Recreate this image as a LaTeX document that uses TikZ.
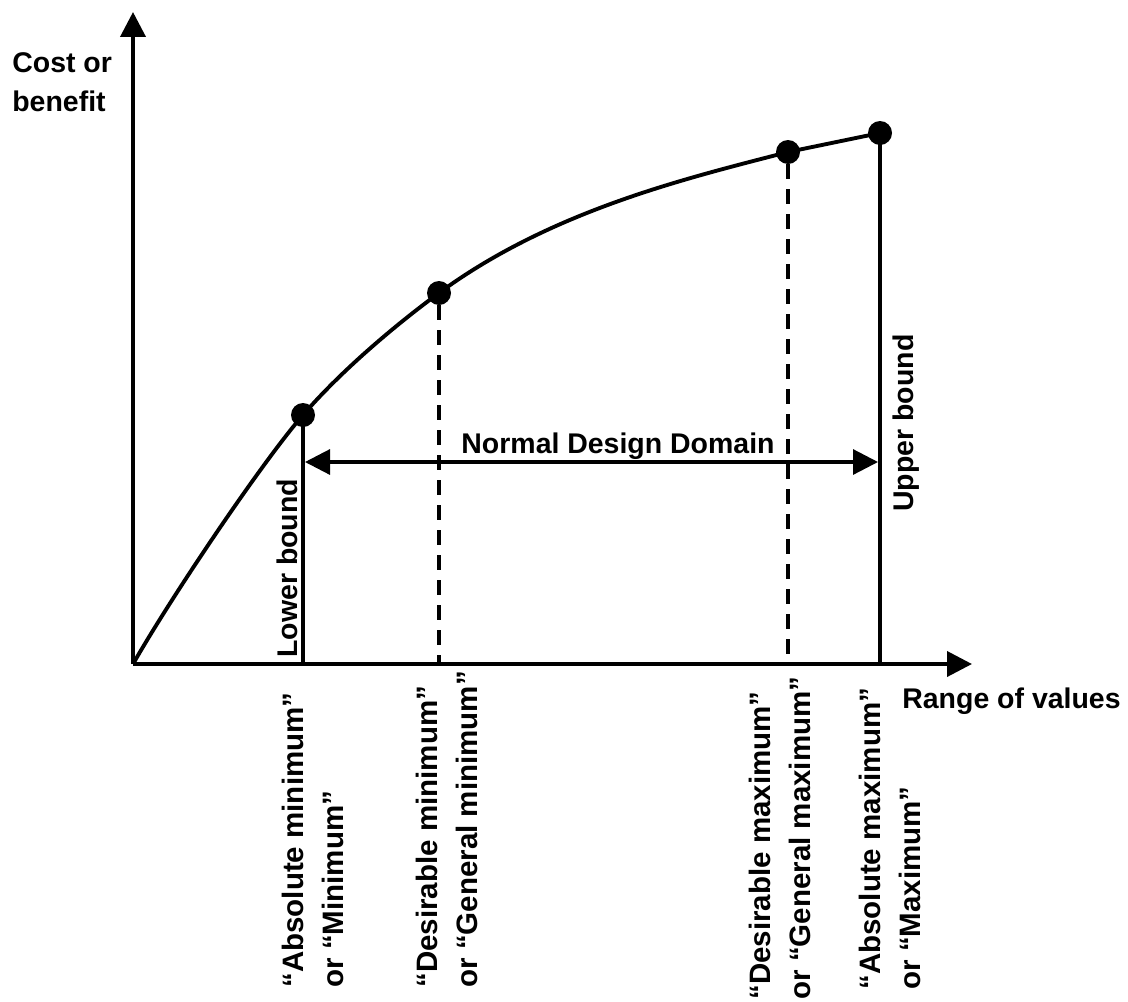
\documentclass[tikz,border=0pt]{standalone}
\usepackage{fontspec}
\setmainfont{Liberation Sans}
\usetikzlibrary{arrows.meta}

\begin{document}
\begin{tikzpicture}[
    x=0.02cm, y=-0.02cm,
    font=\bfseries\fontsize{16.2pt}{22.5pt}\selectfont,
    dot/.style={circle, fill=black, inner sep=0pt, minimum size=0.48cm},
    axisarrow/.style={-{Triangle[length=0.5cm, width=0.5cm]}, line width=2.2pt},
    benefitline/.style={line width=2.2pt},
    boundline/.style={line width=1.8pt},
    dashline/.style={line width=1.8pt, dash pattern=on 0.3cm off 0.2cm},
    spanarrow/.style={{Triangle[length=0.5cm, width=0.5cm]}-{Triangle[length=0.5cm, width=0.5cm]}, line width=1.8pt},
    vlabel/.style={rotate=90, align=left, anchor=north west, inner sep=0pt,
        font=\bfseries\fontsize{16.8pt}{22.5pt}\selectfont}
    ]
    \useasboundingbox (0,0) rectangle (1128,1001);

    %Axes
    \coordinate (O) at (133,664);
    \coordinate (ytip) at (133,12);
    \coordinate (xtip) at (972,664);
    \draw[axisarrow] (O) -- (ytip);
    \draw[axisarrow] (O) -- (xtip);

    %Points on the curve
    \node[dot] (absmin) at (303,415) {};
    \node[dot] (desmin) at (439,293) {};
    \node[dot] (desmax) at (788,152) {};
    \node[dot] (absmax) at (880,133) {};

    %Curve
    \draw[benefitline] (O) .. controls (173,594) and (263,461) .. (absmin.center)
        .. controls (340,372) and (394,326) .. (desmin.center)
        .. controls (552,210) and (688,178) .. (desmax.center)
        -- (absmax.center);

    %Feet on the x axis
    \coordinate (absminfoot) at (303,664);
    \coordinate (desminfoot) at (439,664);
    \coordinate (desmaxfoot) at (788,664);
    \coordinate (absmaxfoot) at (880,664);

    %Lines
    \draw[boundline] (absmin.center) -- (absminfoot);
    \draw[boundline] (absmax.center) -- (absmaxfoot);
    \draw[dashline] (desmin) -- (desminfoot);
    \draw[dashline] (desmax) -- (desmaxfoot);

    \coordinate (spanleft) at (305,462);
    \coordinate (spanright) at (878,462);
    \draw[spanarrow] (spanleft) -- (spanright);

    %Labels
    \node[anchor=base] (domainlabel) at (618,453) {Normal Design Domain};
    \node[rotate=90, anchor=base west, inner sep=0pt] (lowerlabel) at (297,658) {Lower bound};
    \node[rotate=90, anchor=base west, inner sep=0pt] (upperlabel) at (913,512) {Upper bound};
    \node[align=left, anchor=north west, inner sep=0pt] (ylabel) at (12,52) {Cost or\\benefit};
    \node[anchor=base west, inner sep=0pt] (xlabel) at (902,708) {Range of values};

    \node[vlabel] (absminlabel) at (282,988) {“Absolute minimum”\\or “Minimum”};
    \node[vlabel] (desminlabel) at (416,988) {“Desirable minimum”\\or “General minimum”};
    \node[vlabel] (desmaxlabel) at (749,1000) {“Desirable maximum”\\or “General maximum”};
    \node[vlabel] (absmaxlabel) at (859,990) {“Absolute maximum”\\or “Maximum”};

\end{tikzpicture}
\end{document}
